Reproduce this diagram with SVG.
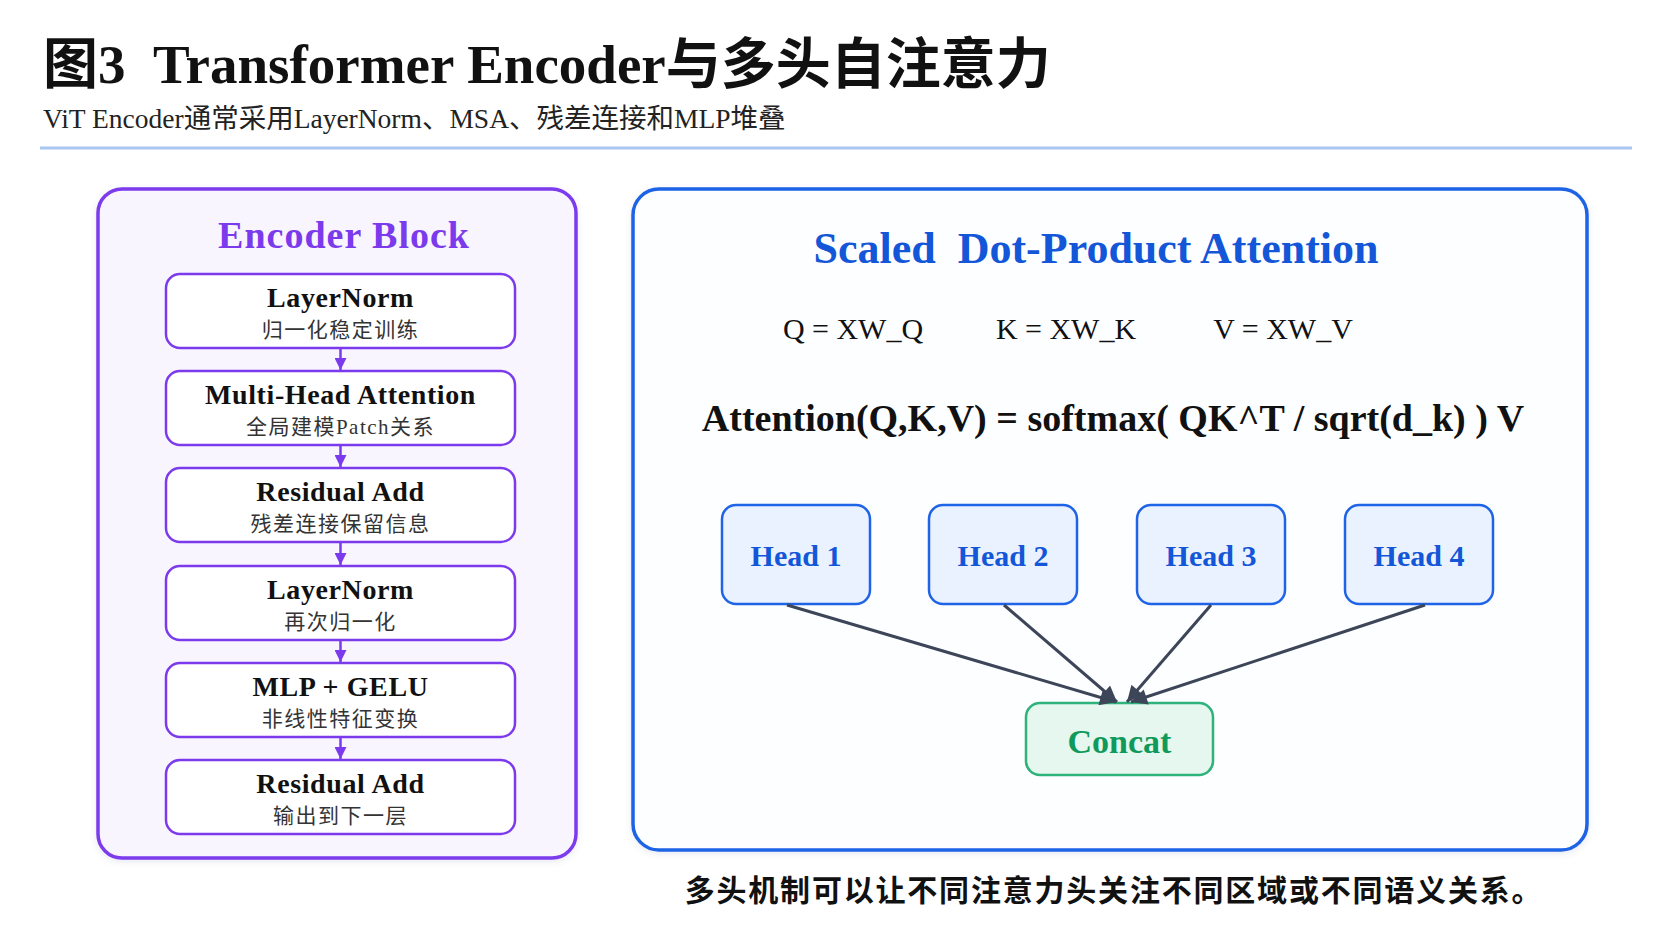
<svg xmlns="http://www.w3.org/2000/svg" width="1672" height="941" viewBox="0 0 1672 941">
<defs>
<style>
.serif{font-family:"Liberation Serif","Noto Sans CJK SC",serif;}
.bt{font-family:"Liberation Serif","Noto Sans CJK SC",serif;font-weight:700;font-size:28px;fill:#111;text-anchor:middle;letter-spacing:0.6px;}
.st{font-family:"Liberation Serif","Noto Sans CJK SC",serif;font-size:21px;fill:#333;text-anchor:middle;letter-spacing:1.5px;}
.lbox{fill:#ffffff;stroke:#7c3aed;stroke-width:2.5;}
.hbox{fill:#eaf2ff;stroke:#1f63e6;stroke-width:2.5;}
.ht{font-family:"Liberation Serif",serif;font-weight:700;font-size:30px;fill:#1356d8;text-anchor:middle;}
.pl{stroke:#7c3aed;stroke-width:2.5;fill:none;}
.dl{stroke:#3d4658;stroke-width:3;fill:none;}
</style>
<marker id="ap" viewBox="0 0 10 10" refX="10" refY="5" markerWidth="12" markerHeight="12" markerUnits="userSpaceOnUse" orient="auto"><path d="M0,0 L10,5 L0,10 z" fill="#7c3aed"/></marker>
<marker id="ad" viewBox="0 0 10 10" refX="10" refY="5" markerWidth="18" markerHeight="16" markerUnits="userSpaceOnUse" orient="auto"><path d="M0,0 L10,5 L0,10 z" fill="#3d4658"/></marker>
<filter id="sh" x="-10%" y="-10%" width="120%" height="130%"><feDropShadow dx="0" dy="2" stdDeviation="3" flood-color="#6070a0" flood-opacity="0.15"/></filter>
</defs>
<rect width="1672" height="941" fill="#ffffff"/>
<g id="title">
<text x="43" y="83" class="serif" font-size="55" font-weight="700" fill="#111" xml:space="preserve">图3  Transformer Encoder与多头自注意力</text>
<text x="43" y="128" class="serif" font-size="27.5" fill="#222">ViT Encoder通常采用LayerNorm、MSA、残差连接和MLP堆叠</text>
<line x1="40" y1="148" x2="1632" y2="148" stroke="#a9c7f2" stroke-width="3"/>
</g>
<g id="encoder-panel">
<rect x="98" y="189" width="478" height="669" rx="24" fill="#f8f5ff" stroke="#7c3aed" stroke-width="3.5" filter="url(#sh)"/>
<text x="344" y="248" class="serif" font-size="38" font-weight="700" fill="#7c3aed" text-anchor="middle" letter-spacing="1">Encoder Block</text>
</g>
<g id="enc-layernorm1"><rect class="lbox" x="166" y="274" width="349" height="74" rx="14"/><text class="bt" x="340.5" y="307">LayerNorm</text><text class="st" x="340.5" y="337">归一化稳定训练</text></g>
<g id="enc-mha"><rect class="lbox" x="166" y="371" width="349" height="74" rx="14"/><text class="bt" x="340.5" y="404">Multi-Head Attention</text><text class="st" x="340.5" y="434">全局建模Patch关系</text></g>
<g id="enc-res1"><rect class="lbox" x="166" y="468" width="349" height="74" rx="14"/><text class="bt" x="340.5" y="501">Residual Add</text><text class="st" x="340.5" y="531">残差连接保留信息</text></g>
<g id="enc-layernorm2"><rect class="lbox" x="166" y="566" width="349" height="74" rx="14"/><text class="bt" x="340.5" y="599">LayerNorm</text><text class="st" x="340.5" y="629">再次归一化</text></g>
<g id="enc-mlp"><rect class="lbox" x="166" y="663" width="349" height="74" rx="14"/><text class="bt" x="340.5" y="696">MLP + GELU</text><text class="st" x="340.5" y="726">非线性特征变换</text></g>
<g id="enc-res2"><rect class="lbox" x="166" y="760" width="349" height="74" rx="14"/><text class="bt" x="340.5" y="793">Residual Add</text><text class="st" x="340.5" y="823">输出到下一层</text></g>
<g id="attn-panel">
<rect x="633" y="189" width="954" height="661" rx="26" fill="#fdfeff" stroke="#1f63e6" stroke-width="3.5" filter="url(#sh)"/>
<text x="1096" y="263" class="serif" font-size="44" font-weight="700" fill="#1356d8" text-anchor="middle" xml:space="preserve">Scaled  Dot-Product Attention</text>
<text x="853" y="339" class="serif" font-size="30" fill="#111" text-anchor="middle">Q = XW_Q</text>
<text x="1066" y="339" class="serif" font-size="30" fill="#111" text-anchor="middle">K = XW_K</text>
<text x="1283" y="339" class="serif" font-size="30" fill="#111" text-anchor="middle">V = XW_V</text>
<text x="1113" y="431" class="serif" font-size="38" font-weight="700" fill="#111" text-anchor="middle">Attention(Q,K,V) = softmax( QK^T / sqrt(d_k) ) V</text>
</g>
<g id="head1"><rect class="hbox" x="722" y="505" width="148" height="99" rx="14"/><text class="ht" x="796" y="566">Head 1</text></g>
<g id="head2"><rect class="hbox" x="929" y="505" width="148" height="99" rx="14"/><text class="ht" x="1003" y="566">Head 2</text></g>
<g id="head3"><rect class="hbox" x="1137" y="505" width="148" height="99" rx="14"/><text class="ht" x="1211" y="566">Head 3</text></g>
<g id="head4"><rect class="hbox" x="1345" y="505" width="148" height="99" rx="14"/><text class="ht" x="1419" y="566">Head 4</text></g>
<g id="concat"><rect x="1026" y="703" width="187" height="72" rx="14" fill="#e5f7ee" stroke="#2db37b" stroke-width="2.5"/><text x="1119.5" y="753" class="serif" font-size="34" font-weight="700" fill="#0f9a5c" text-anchor="middle">Concat</text></g>
<g id="connectors">
<line class="pl" x1="340.5" y1="349" x2="340.5" y2="370" marker-end="url(#ap)"/>
<line class="pl" x1="340.5" y1="446" x2="340.5" y2="467" marker-end="url(#ap)"/>
<line class="pl" x1="340.5" y1="543" x2="340.5" y2="565" marker-end="url(#ap)"/>
<line class="pl" x1="340.5" y1="641" x2="340.5" y2="662" marker-end="url(#ap)"/>
<line class="pl" x1="340.5" y1="738" x2="340.5" y2="759" marker-end="url(#ap)"/>
<line class="dl" x1="787" y1="605" x2="1116" y2="702" marker-end="url(#ad)"/>
<line class="dl" x1="1004" y1="605" x2="1117" y2="702" marker-end="url(#ad)"/>
<line class="dl" x1="1211" y1="605" x2="1127" y2="702" marker-end="url(#ad)"/>
<line class="dl" x1="1425" y1="605" x2="1131" y2="702" marker-end="url(#ad)"/>
</g>
<g id="caption">
<text x="1114" y="901" class="serif" font-size="30" font-weight="700" fill="#111" text-anchor="middle" letter-spacing="1.8">多头机制可以让不同注意力头关注不同区域或不同语义关系。</text>
</g>
</svg>
